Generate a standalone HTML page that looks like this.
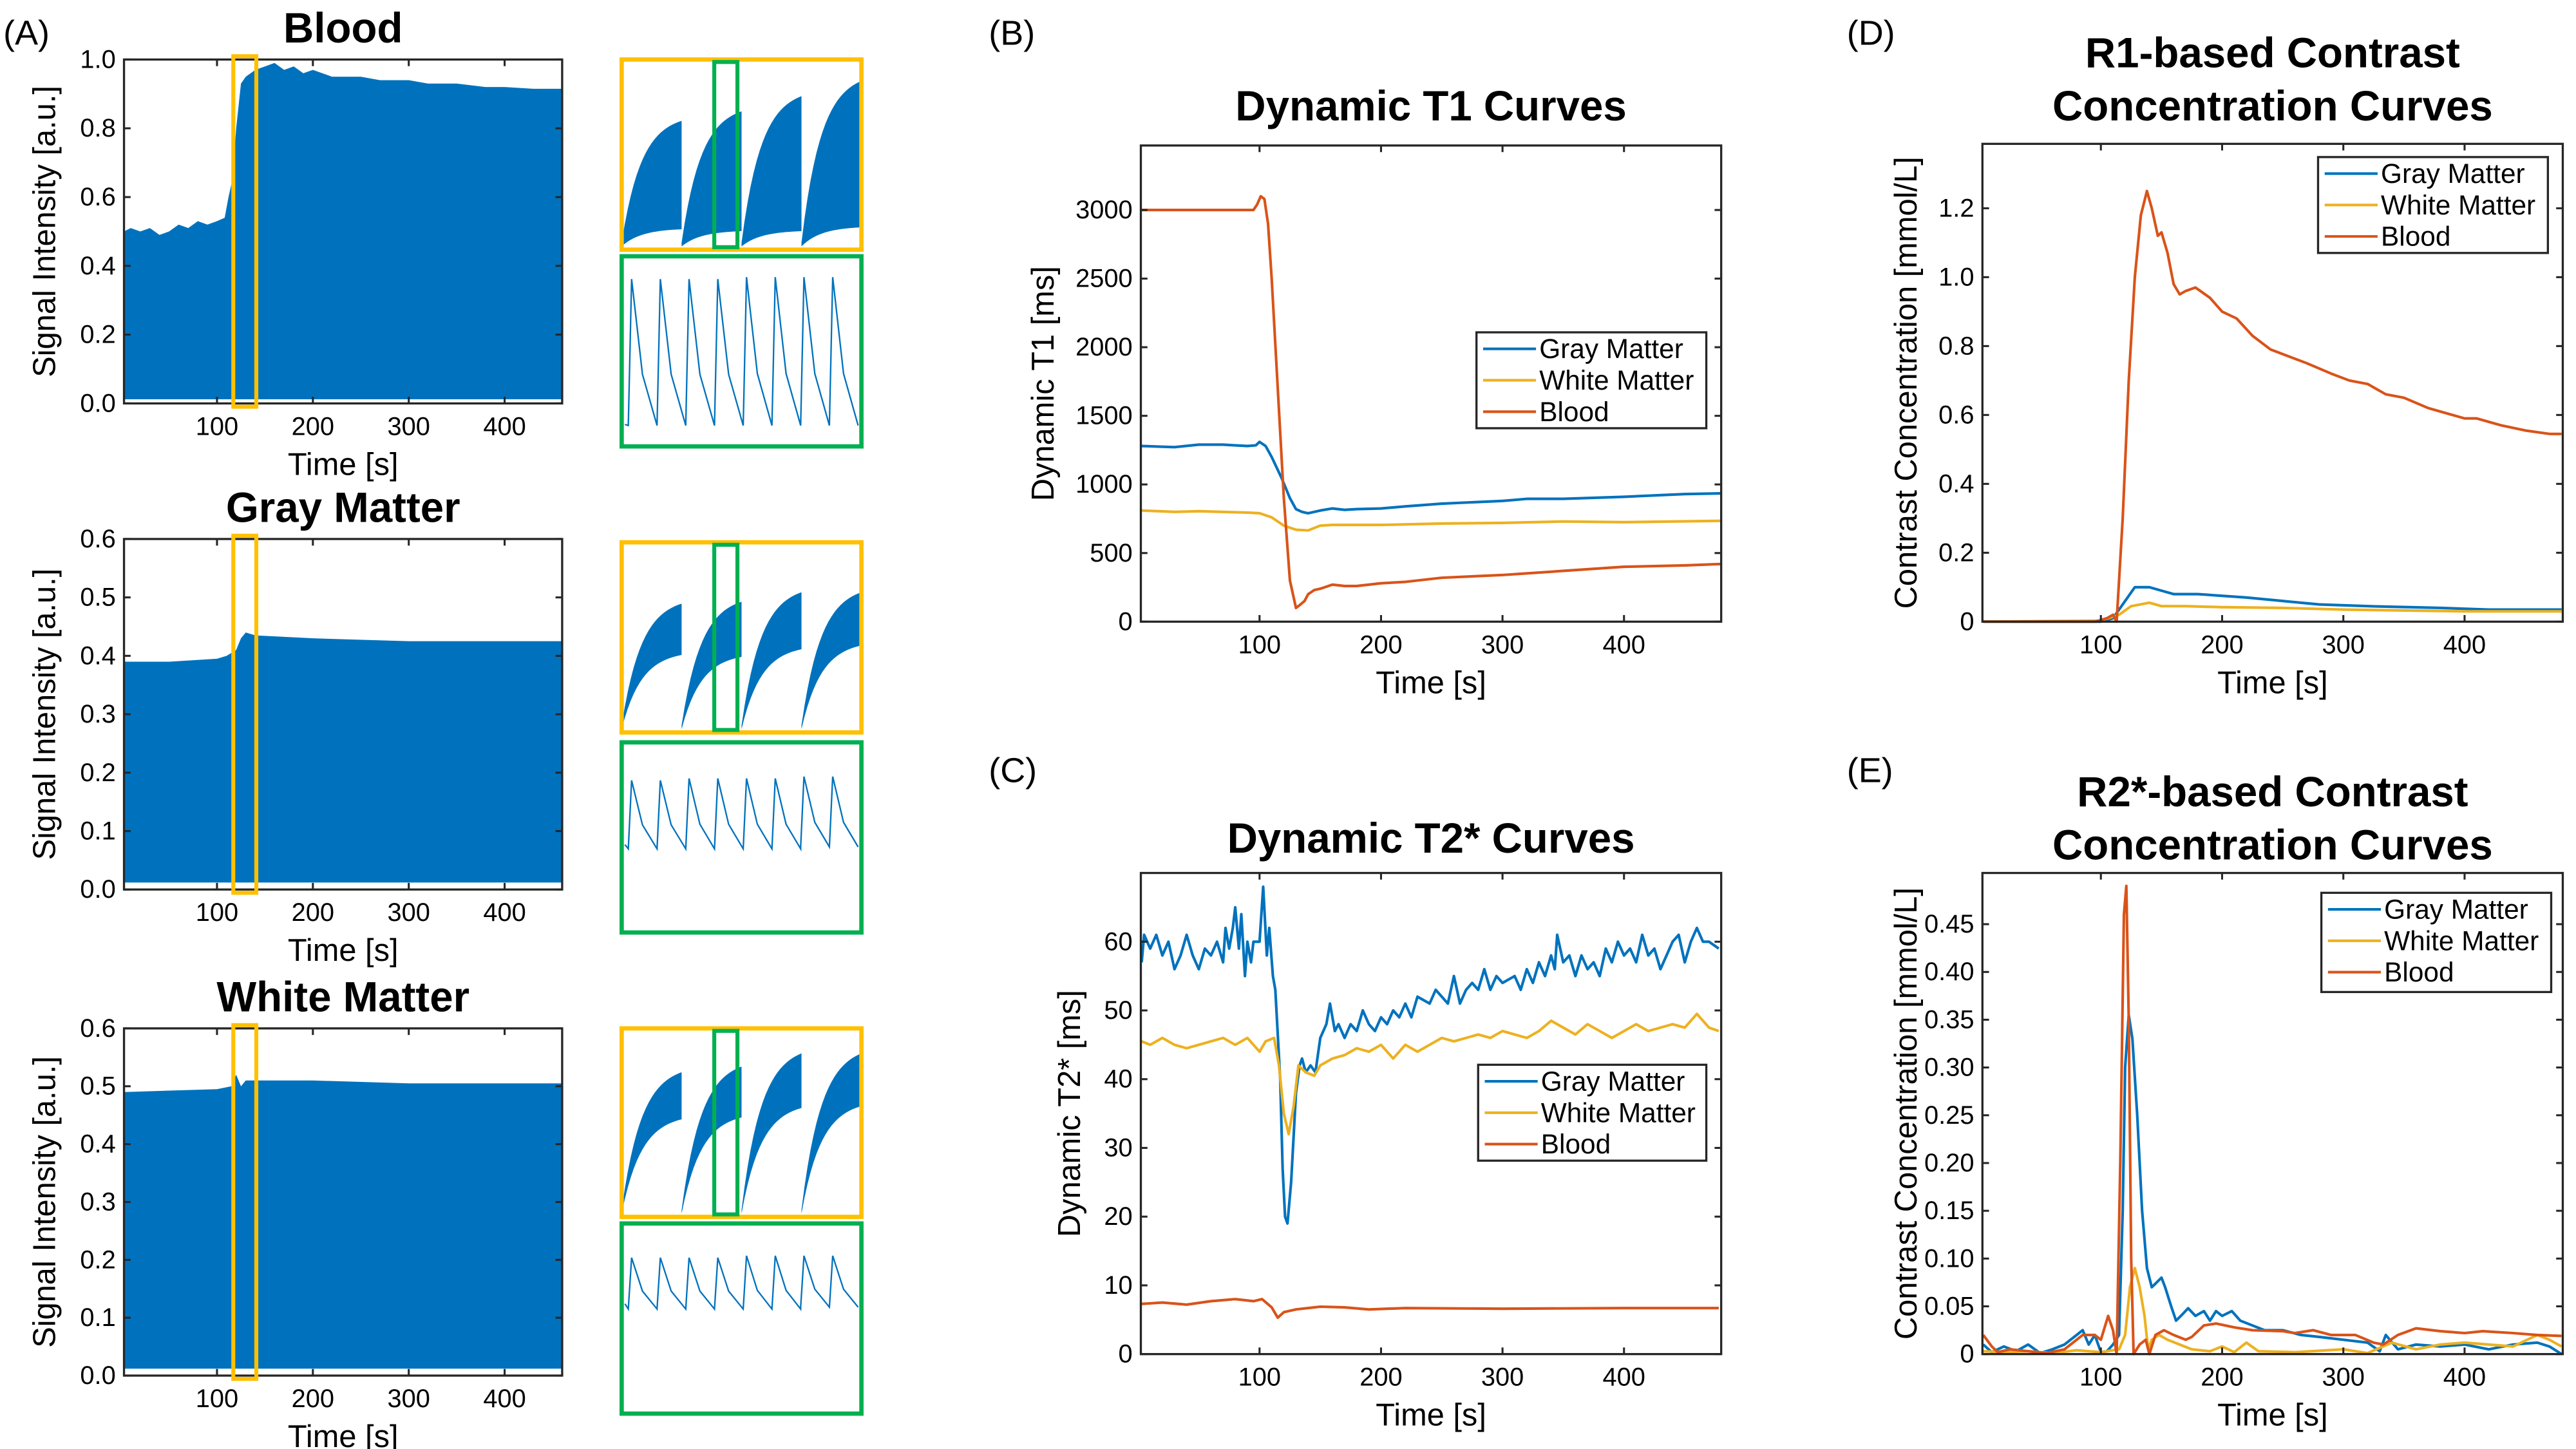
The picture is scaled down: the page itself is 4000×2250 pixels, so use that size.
<!DOCTYPE html>
<html><head><meta charset="utf-8"><style>
html,body{margin:0;padding:0;background:#fff}
svg{display:block}
text{font-family:"Liberation Sans",sans-serif;fill:#000}
</style></head><body>
<svg id="fig" xmlns="http://www.w3.org/2000/svg" width="4000" height="2250" viewBox="0 0 1558 876.4" preserveAspectRatio="none"></svg>
<script>
// ---------- Data ----------
const timeTicks = [100,200,300,400];
const seriesNames = ["Gray Matter","White Matter","Blood"];
const bloodEnvT = [3,10,20,30,40,50,60,70,80,90,100,108,112,116,120,125,130,140,150,160,170,180,190,200,220,250,270,300,320,350,380,400,430,460];
const bloodEnvV = [0.5,0.51,0.5,0.51,0.49,0.5,0.52,0.51,0.53,0.52,0.53,0.54,0.6,0.65,0.8,0.93,0.95,0.97,0.98,0.99,0.97,0.98,0.96,0.97,0.95,0.95,0.94,0.94,0.93,0.93,0.92,0.92,0.915,0.915];
const grayEnvT = [3,50,100,110,120,125,130,140,200,300,400,460];
const grayEnvV = [0.39,0.39,0.395,0.4,0.41,0.43,0.44,0.435,0.43,0.425,0.425,0.425];
const whiteEnvT = [3,100,115,120,125,130,200,300,460];
const whiteEnvV = [0.49,0.495,0.5,0.52,0.5,0.51,0.51,0.505,0.505];
const bloodInsetTop = [0.66,0.71,0.79,0.87];
const bloodInsetBot = [0.09,0.08,0.08,0.1];
const grayInsetTop = [0.66,0.67,0.72,0.72];
const grayInsetBot = [0.39,0.38,0.42,0.44];
const whiteInsetTop = [0.75,0.78,0.85,0.85];
const whiteInsetBot = [0.5,0.51,0.56,0.57];
const bloodGreenPeak = [0.88,0.88,0.88,0.88,0.89,0.89,0.89,0.89];
const bloodGreenTrough = [0.11,0.11,0.11,0.11,0.11,0.11,0.11,0.11];
const grayGreenPeak = [0.8,0.8,0.81,0.81,0.81,0.81,0.82,0.82];
const grayGreenTrough = [0.44,0.44,0.44,0.44,0.44,0.44,0.45,0.45];
const whiteGreenPeak = [0.82,0.82,0.82,0.82,0.83,0.83,0.83,0.83];
const whiteGreenTrough = [0.55,0.55,0.55,0.55,0.55,0.55,0.56,0.56];
const t1GmT = [3,20,30,50,70,90,97,100,105,110,118,125,130,135,140,150,160,170,180,200,220,250,300,320,350,400,450,480];
const t1GmV = [1280,1275,1272,1290,1290,1280,1285,1310,1280,1200,1050,900,820,800,790,810,825,815,820,825,840,860,880,895,895,910,930,935];
const t1WmT = [3,30,50,90,100,110,120,130,140,150,160,200,250,300,350,400,480];
const t1WmV = [810,800,805,795,790,760,700,670,665,700,705,705,715,720,730,725,735];
const t1BlT = [3,95,98,101,104,107,110,115,120,125,130,133,137,140,145,150,160,170,180,200,220,250,300,350,400,450,480];
const t1BlV = [3000,3000,3040,3100,3080,2900,2500,1700,900,300,100,120,150,200,230,240,270,260,260,280,290,320,340,370,400,410,420];
const t2GmT = [3,5,10,15,20,25,30,35,40,45,50,55,60,65,70,72,75,78,80,83,85,88,90,93,95,100,103,106,108,111,113,117,119,121,123,126,130,133,135,138,142,146,150,155,158,162,165,170,175,180,185,190,195,200,205,210,215,220,225,230,240,245,250,255,260,265,270,275,280,285,290,295,300,310,315,320,325,330,335,340,343,345,350,355,360,365,370,375,380,385,390,395,400,405,410,415,420,425,430,435,440,445,450,455,460,465,470,478];
const t2GmV = [57,61,59,61,58,60,56,58,61,58,56,59,58,60,57,62,59,62,65,59,64,55,60,57,60,60,68,58,62,55,53,40,27,20,19,25,38,42,43,41,42,41,46,48,51,47,48,46,48,47,50,48,47,49,48,50,49,51,49,52,51,53,52,51,55,51,53,54,53,56,53,55,54,55,53,56,54,57,55,58,56,61,57,58,55,58,56,57,55,59,57,60,58,59,57,61,58,59,56,58,60,61,57,60,62,60,60,59];
const t2WmT = [3,10,20,30,40,50,60,70,80,90,100,105,112,116,120,124,128,132,138,145,150,160,170,180,190,200,210,220,230,240,250,260,270,280,290,300,310,320,330,340,350,360,370,380,390,400,410,420,430,440,450,460,470,478];
const t2WmV = [45.5,45,46,45,44.5,45,45.5,46,45,46,44,45.5,46,42,35,32,36,42,41,40.5,42,43,43.5,44.5,44,45,43,45,44,45,46,45.5,46,46.5,46,47,46.5,46,47,48.5,47.5,46.5,48,47,46,47,48,47,47.5,48,47.5,49.5,47.5,47];
const t2BlT = [3,20,40,60,80,95,102,110,115,120,130,150,170,190,220,300,400,478];
const t2BlV = [7.3,7.5,7.2,7.7,8,7.7,8,6.8,5.3,6.1,6.5,6.9,6.8,6.5,6.7,6.6,6.7,6.7];
const r1GmT = [3,100,110,120,128,140,150,160,180,200,220,250,280,320,380,420,480];
const r1GmV = [0,0,0.01,0.06,0.1,0.1,0.09,0.08,0.08,0.075,0.07,0.06,0.05,0.045,0.04,0.035,0.035];
const r1WmT = [3,100,115,125,140,150,170,200,250,300,400,480];
const r1WmV = [0,0.003,0.02,0.045,0.055,0.045,0.045,0.042,0.04,0.035,0.03,0.03];
const r1BlT = [3,95,105,110,113,118,123,128,133,138,142,147,150,155,160,165,170,178,190,200,212,225,240,255,270,290,305,320,335,350,370,390,400,410,430,450,470,480];
const r1BlV = [0,0,0.01,0.02,0,0.3,0.7,1.0,1.18,1.25,1.2,1.12,1.13,1.07,0.98,0.95,0.96,0.97,0.94,0.9,0.88,0.83,0.79,0.77,0.75,0.72,0.7,0.69,0.66,0.65,0.62,0.6,0.59,0.59,0.57,0.555,0.545,0.545];
const r2GmT = [3,10,20,30,40,50,60,70,80,85,90,95,100,105,110,115,118,120,123,126,130,134,138,142,146,150,153,158,162,166,172,178,185,190,195,200,208,215,225,235,250,265,280,300,320,330,335,345,360,380,400,420,440,460,470,480];
const r2GmV = [0.01,0.002,0.008,0.003,0.01,0.001,0.005,0.01,0.02,0.025,0.01,0.02,0.002,0.003,0.01,0.02,0.15,0.3,0.355,0.33,0.25,0.15,0.09,0.07,0.075,0.08,0.07,0.05,0.035,0.04,0.048,0.04,0.045,0.035,0.045,0.04,0.045,0.035,0.03,0.025,0.025,0.02,0.018,0.015,0.012,0.003,0.02,0.005,0.01,0.008,0.01,0.005,0.01,0.012,0.008,0];
const r2WmT = [3,20,40,60,80,100,115,120,124,128,132,136,139,142,148,155,165,175,190,200,210,220,230,260,300,320,340,360,380,400,420,440,460,470,480];
const r2WmV = [0.003,0.002,0.003,0.001,0.004,0.002,0.005,0.02,0.07,0.09,0.07,0.04,0.005,0.015,0.02,0.015,0.01,0.005,0.003,0.008,0.002,0.012,0.003,0.002,0.005,0.001,0.012,0.005,0.01,0.012,0.01,0.008,0.02,0.015,0.008];
const r2BlT = [3,10,15,25,40,55,70,80,85,95,100,106,110,113,116,119,121,123,125,127,132,137,140,145,152,160,170,175,185,195,210,225,250,260,275,290,310,325,333,345,360,380,400,415,440,460,480];
const r2BlV = [0.02,0.008,0.002,0.005,0.003,0.001,0.005,0.015,0.02,0.02,0.015,0.04,0.025,0,0.2,0.46,0.49,0.35,0.1,0,0.01,0.015,0,0.02,0.025,0.02,0.015,0.018,0.03,0.032,0.028,0.025,0.024,0.022,0.025,0.02,0.02,0.012,0.01,0.02,0.027,0.024,0.022,0.024,0.022,0.02,0.019];

// ---------- Helpers ----------
const NS = "http://www.w3.org/2000/svg";
const svg = document.getElementById("fig");
const C_BLUE="#0072BD", C_YEL="#EDB120", C_RED="#D95319", C_AX="#262626";
function mk(tag, attrs, parent){
  const e=document.createElementNS(NS,tag);
  for(const k in attrs) e.setAttribute(k,attrs[k]);
  (parent||svg).appendChild(e); return e;
}
function txt(str,x,y,size,opt,parent){
  opt=opt||{};
  const e=mk("text",{x:x,y:y,"font-size":size,"text-anchor":opt.anchor||"middle","dominant-baseline":opt.base||"central"},parent);
  if(opt.bold) e.setAttribute("font-weight","bold");
  if(opt.rot) e.setAttribute("transform","rotate(-90 "+x+" "+y+")");
  e.textContent=str; return e;
}
function makeAxes(name,box,xlim,ylim){
  const g=mk("g",{});
  
  
  const sx=v=>box.x0+(v-xlim[0])/(xlim[1]-xlim[0])*(box.x1-box.x0);
  const sy=v=>box.y1-(v-ylim[0])/(ylim[1]-ylim[0])*(box.y1-box.y0);
  return {g,sx,sy,box};
}
function drawFrame(ax,xt,yt,yfmt,xlabel,ylabel,ylabX,title){
  const b=ax.box, g=ax.g;
  const fg=mk("g",{},g);
  
  
  mk("rect",{x:b.x0,y:b.y0,width:b.x1-b.x0,height:b.y1-b.y0,fill:"none",stroke:C_AX,"stroke-width":1.3},fg);
  xt.forEach(v=>{const x=ax.sx(v);
    mk("line",{x1:x,y1:b.y1,x2:x,y2:b.y1-4,stroke:C_AX,"stroke-width":1.2},fg);
    mk("line",{x1:x,y1:b.y0,x2:x,y2:b.y0+4,stroke:C_AX,"stroke-width":1.2},fg);
    const t=txt(String(v),x,b.y1+14,15.5,{},fg);
    
    
  });
  yt.forEach(v=>{const y=ax.sy(v);
    mk("line",{x1:b.x0,y1:y,x2:b.x0+4,y2:y,stroke:C_AX,"stroke-width":1.2},fg);
    mk("line",{x1:b.x1,y1:y,x2:b.x1-4,y2:y,stroke:C_AX,"stroke-width":1.2},fg);
    const t=txt(yfmt(v),b.x0-5,y,15.5,{anchor:"end"},fg);
    
    
  });
  const xl=txt(xlabel,(b.x0+b.x1)/2,b.y1+37,19,{},g);
  
  
  const yl=txt(ylabel,ylabX,(b.y0+b.y1)/2,19,{rot:true},g);
  
  
  if(title){
    title.forEach((s,i)=>{
      const t=txt(s,(b.x0+b.x1)/2,title.y+i*32,25.5,{bold:true},g);
      
      
    });
  }
}
function line(ax,T,V,color,name){
  const d=T.map((t,i)=>(i?"L":"M")+ax.sx(t).toFixed(2)+" "+ax.sy(V[i]).toFixed(2)).join(" ");
  const p=mk("path",{d:d,fill:"none",stroke:color,"stroke-width":1.6,"stroke-linejoin":"round"},ax.g);
  
  
}
function legend(x,y,w,h){
  const g=mk("g",{});
  
  
  mk("rect",{x:x,y:y,width:w,height:h,fill:"#fff",stroke:C_AX,"stroke-width":1.3},g);
  const cols=[C_BLUE,C_YEL,C_RED];
  seriesNames.forEach((n,i)=>{
    const e=mk("g",{},g);
    
    
    const yy=y+10+i*19;
    mk("line",{x1:x+4,y1:yy,x2:x+36,y2:yy,stroke:cols[i],"stroke-width":1.6},e);
    txt(n,x+38,yy,16.5,{anchor:"start"},e);
  });
}
function fillEnv(ax,T,V,name){
  let d="M"+ax.sx(T[0])+" "+ax.sy(0.012);
  T.forEach((t,i)=>{d+=" L"+ax.sx(t).toFixed(2)+" "+ax.sy(V[i]).toFixed(2);});
  d+=" L"+ax.sx(T[T.length-1])+" "+ax.sy(0.012)+" Z";
  const p=mk("path",{d:d,fill:C_BLUE,stroke:"none"},ax.g);
  
  
}
function inset(name,x0,y0,x1,y1,tops,bots,gx0,gx1){
  const g=mk("g",{});
  
  
  const w=(x1-x0)/tops.length, h=y1-y0, N=20, K=3, norm=1-Math.exp(-K);
  tops.forEach((tp,i)=>{
    let up="",dn="";
    for(let j=0;j<=N;j++){
      const u=j/N, f=(1-Math.exp(-K*u))/norm;
      const x=x0+i*w+u*w;
      up+=(j?" L":"M")+x.toFixed(2)+" "+(y1-2-(0.02+f*(tp-0.02))*h).toFixed(2);
      dn=" L"+x.toFixed(2)+" "+(y1-2-(f*bots[i])*h).toFixed(2)+dn;
    }
    const p=mk("path",{d:up+dn+" Z",fill:C_BLUE},g);
    
    
  });
  mk("rect",{x:x0,y:y0,width:x1-x0,height:h,fill:"none",stroke:"#FFC000","stroke-width":2.6},g);
  mk("rect",{x:gx0,y:y0+1.5,width:gx1-gx0,height:h-3,fill:"none",stroke:"#00B050","stroke-width":2.4},g);
}
function greenInset(name,x0,y0,x1,y1,peaks,troughs){
  const g=mk("g",{});
  
  
  const h=y1-y0, w=(x1-x0-6)/peaks.length;
  let d="M"+(x0+2)+" "+(y1-troughs[0]*h*1.05);
  peaks.forEach((pk,i)=>{
    const xs=x0+3+i*w;
    d+=" L"+(xs+1).toFixed(2)+" "+(y1-troughs[i]*h).toFixed(2);
    d+=" L"+(xs+3).toFixed(2)+" "+(y1-pk*h).toFixed(2);
    d+=" L"+(xs+w*0.55).toFixed(2)+" "+(y1-(troughs[i]+(pk-troughs[i])*0.35)*h).toFixed(2);
    d+=" L"+(xs+w+1).toFixed(2)+" "+(y1-troughs[i]*h).toFixed(2);
  });
  const p=mk("path",{d:d,fill:"none",stroke:C_BLUE,"stroke-width":0.9},g);
  
  
  mk("rect",{x:x0,y:y0,width:x1-x0,height:h,fill:"none",stroke:"#00B050","stroke-width":2.6},g);
}
const f1=v=>v.toFixed(1), f0=v=>String(v), fD=v=>v===0?"0":v.toFixed(1), fE=v=>v===0?"0":v.toFixed(2);

[["(A)",2,20],["(B)",598,20],["(C)",598,466],["(D)",1117,20],["(E)",1117,466]].forEach(l=>{
  const t=txt(l[0],l[1],l[2],21,{anchor:"start"});
  
  
});

const aPanels=[
  {n:"blood",title:"Blood",y0:36,y1:244,ymax:1.0,yt:[0,0.2,0.4,0.6,0.8,1.0],T:bloodEnvT,V:bloodEnvV,it:bloodInsetTop,ib:bloodInsetBot,gp:bloodGreenPeak,gt:bloodGreenTrough,iy:[36,151],gy:[155,270]},
  {n:"gray-matter",title:"Gray Matter",y0:326,y1:538,ymax:0.6,yt:[0,0.1,0.2,0.3,0.4,0.5,0.6],T:grayEnvT,V:grayEnvV,it:grayInsetTop,ib:grayInsetBot,gp:grayGreenPeak,gt:grayGreenTrough,iy:[328,443],gy:[449,564]},
  {n:"white-matter",title:"White Matter",y0:622,y1:832,ymax:0.6,yt:[0,0.1,0.2,0.3,0.4,0.5,0.6],T:whiteEnvT,V:whiteEnvV,it:whiteInsetTop,ib:whiteInsetBot,gp:whiteGreenPeak,gt:whiteGreenTrough,iy:[622,736],gy:[740,855]}
];
aPanels.forEach(P=>{
  const ax=makeAxes("signal-plot-"+P.n,{x0:75,x1:340,y0:P.y0,y1:P.y1},[3,460],[0,P.ymax]);
  fillEnv(ax,P.T,P.V,"signal-fill-"+P.n);
  const tt=[P.title]; tt.y=P.y0-19;
  drawFrame(ax,timeTicks,P.yt,f1,"Time [s]","Signal Intensity [a.u.]",27,tt);
  const hl=mk("rect",{x:ax.sx(117),y:P.y0-2,width:ax.sx(141)-ax.sx(117),height:P.y1-P.y0+4,fill:"none",stroke:"#FFC000","stroke-width":2.4},ax.g);
  
  
  inset("inset-zoom-"+P.n,376,P.iy[0],521,P.iy[1],P.it,P.ib,432,446);
  greenInset("inset-detail-"+P.n,376,P.gy[0],521,P.gy[1],P.gp,P.gt);
});

{
  const ax=makeAxes("t1-plot",{x0:690,x1:1041,y0:88,y1:376},[2.3,480],[0,3470]);
  line(ax,t1GmT,t1GmV,C_BLUE,"line-gray-matter");
  line(ax,t1WmT,t1WmV,C_YEL,"line-white-matter");
  line(ax,t1BlT,t1BlV,C_RED,"line-blood");
  const tt=["Dynamic T1 Curves"]; tt.y=64;
  drawFrame(ax,timeTicks,[0,500,1000,1500,2000,2500,3000],f0,"Time [s]","Dynamic T1 [ms]",631,tt);
  legend(893,201,139,58);
}
{
  const ax=makeAxes("t2-plot",{x0:690,x1:1041,y0:528,y1:819},[2.3,480],[0,70]);
  line(ax,t2GmT,t2GmV,C_BLUE,"line-gray-matter");
  line(ax,t2WmT,t2WmV,C_YEL,"line-white-matter");
  line(ax,t2BlT,t2BlV,C_RED,"line-blood");
  const tt=["Dynamic T2* Curves"]; tt.y=507;
  drawFrame(ax,timeTicks,[0,10,20,30,40,50,60],f0,"Time [s]","Dynamic T2* [ms]",647,tt);
  legend(894,644,138,58);
}
{
  const ax=makeAxes("r1-concentration-plot",{x0:1199,x1:1550,y0:87,y1:376},[2.3,481],[0,1.387]);
  line(ax,r1GmT,r1GmV,C_BLUE,"line-gray-matter");
  line(ax,r1WmT,r1WmV,C_YEL,"line-white-matter");
  line(ax,r1BlT,r1BlV,C_RED,"line-blood");
  const tt=["R1-based Contrast","Concentration Curves"]; tt.y=32;
  drawFrame(ax,timeTicks,[0,0.2,0.4,0.6,0.8,1.0,1.2],fD,"Time [s]","Contrast Concentration [mmol/L]",1153,tt);
  legend(1402,95,139,58);
}
{
  const ax=makeAxes("r2-concentration-plot",{x0:1199,x1:1550,y0:528,y1:819},[2.3,481],[0,0.5036]);
  line(ax,r2GmT,r2GmV,C_BLUE,"line-gray-matter");
  line(ax,r2WmT,r2WmV,C_YEL,"line-white-matter");
  line(ax,r2BlT,r2BlV,C_RED,"line-blood");
  const tt=["R2*-based Contrast","Concentration Curves"]; tt.y=479;
  drawFrame(ax,timeTicks,[0,0.05,0.1,0.15,0.2,0.25,0.3,0.35,0.4,0.45],fE,"Time [s]","Contrast Concentration [mmol/L]",1153,tt);
  legend(1404,540,139,60);
}
</script>
</body></html>
